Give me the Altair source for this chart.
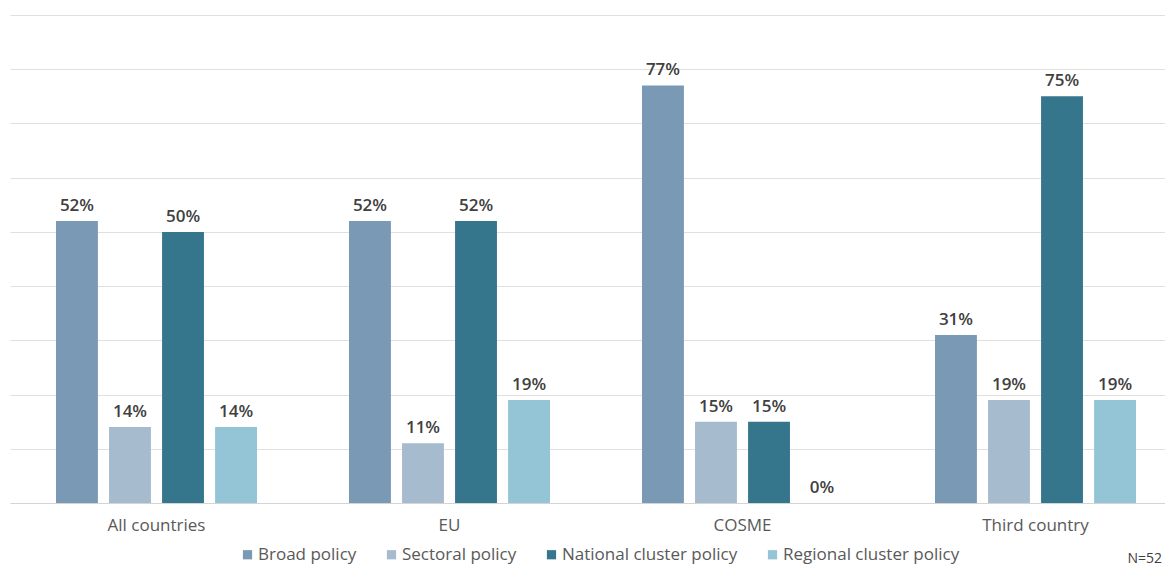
import altair as alt
import pandas as pd

groups = ["All countries", "EU", "COSME", "Third country"]
series = ["Broad policy", "Sectoral policy", "National cluster policy", "Regional cluster policy"]
colors = ["#7a99b4", "#a7bbcf", "#35768d", "#93c5d6"]
values = {
    "Broad policy": [52, 52, 77, 31],
    "Sectoral policy": [14, 11, 15, 19],
    "National cluster policy": [50, 52, 15, 75],
    "Regional cluster policy": [14, 19, 0, 19],
}
note = "N=52"

rows = []
for s in series:
    for g, v in zip(groups, values[s]):
        rows.append({"group": g, "series": s, "value": v, "label": f"{v}%"})
df = pd.DataFrame(rows)

FONT = "Open Sans"

x = alt.X("group:N", sort=groups, title=None,
          scale=alt.Scale(paddingInner=0.276, paddingOuter=0.138, range=[0, 1172]),
          axis=alt.Axis(labelAngle=0, ticks=False, domainColor="#d4d4d4", domainWidth=1,
                        labelFontSize=17, labelColor="#595959", labelFont=FONT, labelPadding=14))
xo = alt.XOffset("series:N", sort=series,
                 scale=alt.Scale(paddingInner=0.21, paddingOuter=0.105))
y = alt.Y("value:Q", title=None,
          scale=alt.Scale(domain=[0, 90], nice=False),
          axis=alt.Axis(values=list(range(0, 91, 10)), labels=False, ticks=False, domain=False,
                        grid=True, gridColor="#e0e0e0", gridWidth=1))

base = alt.Chart(df)
bars = base.mark_bar().encode(
    x=x, xOffset=xo, y=y,
    color=alt.Color("series:N", sort=series,
                    scale=alt.Scale(domain=series, range=colors),
                    legend=alt.Legend(title=None, orient="none", legendX=229, legendY=531,
                                      direction="horizontal", padding=0,
                                      symbolType="square", symbolSize=85, symbolStrokeWidth=0,
                                      labelFontSize=17, labelColor="#595959", labelFont=FONT,
                                      labelLimit=400, columnPadding=26, labelOffset=2)),
)
texts = base.mark_text(baseline="alphabetic", dy=-10, fontSize=17, fontWeight=600,
                       color="#404040", font=FONT).encode(
    x=alt.X("group:N", sort=groups), xOffset=alt.XOffset("series:N", sort=series), y="value:Q",
    text="label:N",
)
notes = alt.Chart(pd.DataFrame({"t": [note]})).mark_text(
    align="right", baseline="alphabetic", fontSize=14, color="#404040", font=FONT
).encode(x=alt.value(1152), y=alt.value(548), text="t:N")

chart = alt.layer(bars, texts, notes).properties(
    width=1155, height=488,
    padding={"left": 2, "top": 7, "right": 0, "bottom": 63},
    autosize=alt.AutoSizeParams(type="none"),
).configure_view(stroke=None)

chart.save("out.html", embed_options={"renderer": "svg", "actions": False})
